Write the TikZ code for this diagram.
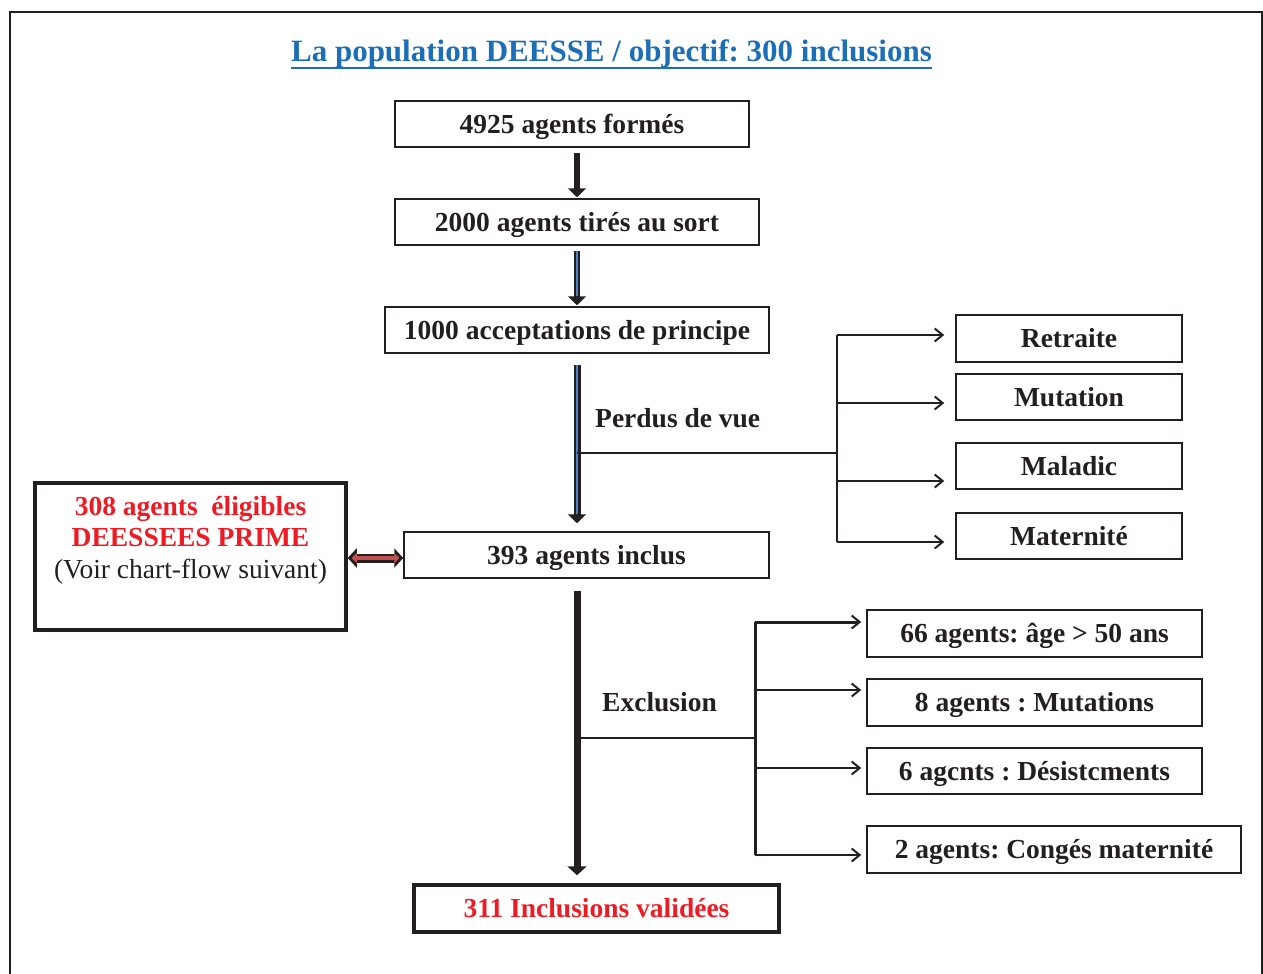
\documentclass[tikz,border=0pt]{standalone}
\usepackage{fontspec}
\setmainfont{Liberation Serif}
\usetikzlibrary{arrows.meta}
\usetikzlibrary{positioning}
\frenchspacing
\definecolor{inkblack}{HTML}{231F20}
\definecolor{titleblue}{HTML}{1C6EB7}
\definecolor{alertred}{HTML}{ED1C24}
\definecolor{shaftblue}{HTML}{4F81BD}
\definecolor{linkred}{HTML}{C0504D}
\newcommand{\labelfont}{\fontsize{27.5}{31.5}\selectfont}
\tikzset{
	stagebox/.style={draw=inkblack, line width=1.5pt, inner sep=0pt, text=inkblack,
		font=\labelfont\bfseries, text height=19pt, text depth=1pt},
	keybox/.style={stagebox, line width=3.5pt},
	flowarrow/.style={draw=inkblack, line width=6pt,
		-{Triangle[length=9pt,width=18pt]}},
	shaftline/.style={draw=shaftblue, line width=1.8pt},
	forkline/.style={draw=inkblack, line width=2pt},
	branch/.style={forkline, -{Straight Barb[length=8pt,width=13pt,line width=2pt]}},
	steplabel/.style={anchor=west, inner sep=0pt, text=inkblack, font=\labelfont\bfseries},
}

\begin{document}
\begin{tikzpicture}[x=1pt, y=-1pt]
	\useasboundingbox (0,0) rectangle (1263,974);
	\draw[inkblack, line width=2pt] (10,974) -- (10,12) -- (1262,12) -- (1262,974);

	% title
	\node[anchor=base, inner sep=0pt, text=titleblue, font=\fontsize{31}{36}\selectfont\bfseries]
		(title) at (611.5,62) {La population DEESSE / objectif: 300 inclusions};
	\draw[titleblue, line width=2.2pt] ([yshift=-6pt]title.base west) -- ([yshift=-6pt]title.base east);

	% main column
	\node[stagebox, minimum width=354pt, minimum height=46pt] (b4925) at (572,124) {4925 agents formés};
	\node[stagebox, minimum width=364pt, minimum height=46pt] (b2000) at (577,222) {2000 agents tirés au sort};
	\node[stagebox, minimum width=384pt, minimum height=46pt] (b1000) at (577,330) {1000 acceptations de principe};
	\node[stagebox, minimum width=365pt, minimum height=46pt] (b393) at (586.5,555) {393 agents inclus};
	\node[keybox, minimum width=365pt, minimum height=47pt, text=alertred] (b311) at (596.5,908.5) {311 Inclusions validées};

	% side box
	\node[keybox, minimum width=311pt, minimum height=147pt] (b308) at (190.5,556.5) {};
	\node[align=center, inner sep=0pt, font=\labelfont] (b308txt) at (190.5,540)
		{\textcolor{alertred}{\bfseries 308 agents~~éligibles}\\
		 \textcolor{alertred}{\bfseries DEESSEES PRIME}\\
		 \textcolor{inkblack}{(Voir chart-flow suivant)}};

	% lost to follow-up
	\node[stagebox, minimum width=226pt, minimum height=47pt] (retraite) at (1069,338.5) {Retraite};
	\node[stagebox, minimum width=226pt, minimum height=46pt] (mutation) at (1069,397) {Mutation};
	\node[stagebox, minimum width=226pt, minimum height=46pt] (maladie) at (1069,466) {Maladic};
	\node[stagebox, minimum width=226pt, minimum height=46pt] (maternite) at (1069,536) {Maternité};

	% exclusions
	\node[stagebox, minimum width=335pt, minimum height=47pt] (ex66) at (1034.5,633.5) {66 agents: âge > 50 ans};
	\node[stagebox, minimum width=335pt, minimum height=47pt] (ex8) at (1034.5,702.5) {8 agents : Mutations};
	\node[stagebox, minimum width=335pt, minimum height=46pt] (ex6) at (1034.5,771) {6 agcnts : Désistcments};
	\node[stagebox, minimum width=374pt, minimum height=47pt] (ex2) at (1054,849.5) {2 agents: Congés maternité};

	\node[steplabel] (perdus) at (595,418) {Perdus de vue};
	\node[steplabel] (exclusion) at (602,702) {Exclusion};

	% flow arrows
	\draw[flowarrow, shorten <=5pt, shorten >=1pt] (b2000.north |- b4925.south) -- (b2000.north);
	\draw[flowarrow, shorten <=5pt, shorten >=1pt] (b2000.south) -- (b2000.south |- b1000.north);
	\draw[shaftline, shorten <=5pt, shorten >=10pt] (b2000.south) -- (b2000.south |- b1000.north);
	\draw[flowarrow, line width=7pt, shorten <=11pt, shorten >=8pt] (b1000.south) -- (b1000.south |- b393.north);
	\draw[shaftline, line width=2.5pt, shorten <=11pt, shorten >=17pt] (b1000.south) -- (b1000.south |- b393.north);
	\draw[flowarrow, line width=7pt, -{Triangle[length=9pt,width=19pt]}, shorten <=12pt, shorten >=8pt]
		(b1000.south |- b393.south) -- (b1000.south |- b311.north);

	% link to side box
	\draw[draw=inkblack, line width=9pt, {Triangle[length=9pt,width=19pt]}-{Triangle[length=9pt,width=19pt]}]
		([yshift=-1.5pt]b308.east) -- ([yshift=-1.5pt]b308.east -| b393.west);
	\draw[draw=linkred, line width=3.5pt, {Triangle[length=5pt,width=10pt]}-{Triangle[length=5pt,width=10pt]},
		shorten <=4pt, shorten >=4pt]
		([yshift=-1.5pt]b308.east) -- ([yshift=-1.5pt]b308.east -| b393.west);

	% fork: perdus de vue
	\coordinate (pvfork) at (837,453);
	\coordinate (pv1) at (837,335);
	\coordinate (pv2) at (837,403);
	\coordinate (pv3) at (837,481);
	\coordinate (pv4) at (837,542);
	\draw[forkline] (pvfork -| b1000.south) -- (pvfork);
	\draw[forkline] (pv1) -- (pv4);
	\draw[branch, shorten >=11pt] (pv1) -- (pv1 -| retraite.west);
	\draw[branch, shorten >=11pt] (pv2) -- (pv2 -| mutation.west);
	\draw[branch, shorten >=11pt] (pv3) -- (pv3 -| maladie.west);
	\draw[branch, shorten >=11pt] (pv4) -- (pv4 -| maternite.west);

	% fork: exclusion
	\coordinate (exfork) at (755,738);
	\coordinate (exc1) at (755,622);
	\coordinate (exc2) at (755,690);
	\coordinate (exc3) at (755,768);
	\coordinate (exc4) at (755,855);
	\draw[forkline] (exfork -| b1000.south) -- (exfork);
	\draw[forkline, line width=3pt] (exc1) -- (exc4);
	\draw[branch, line width=3pt, shorten >=5pt] (exc1) -- (exc1 -| ex66.west);
	\draw[branch, shorten >=5pt] (exc2) -- (exc2 -| ex8.west);
	\draw[branch, line width=2.5pt, shorten >=5pt] (exc3) -- (exc3 -| ex6.west);
	\draw[branch, shorten >=5pt] (exc4) -- (exc4 -| ex2.west);
\end{tikzpicture}
\end{document}
